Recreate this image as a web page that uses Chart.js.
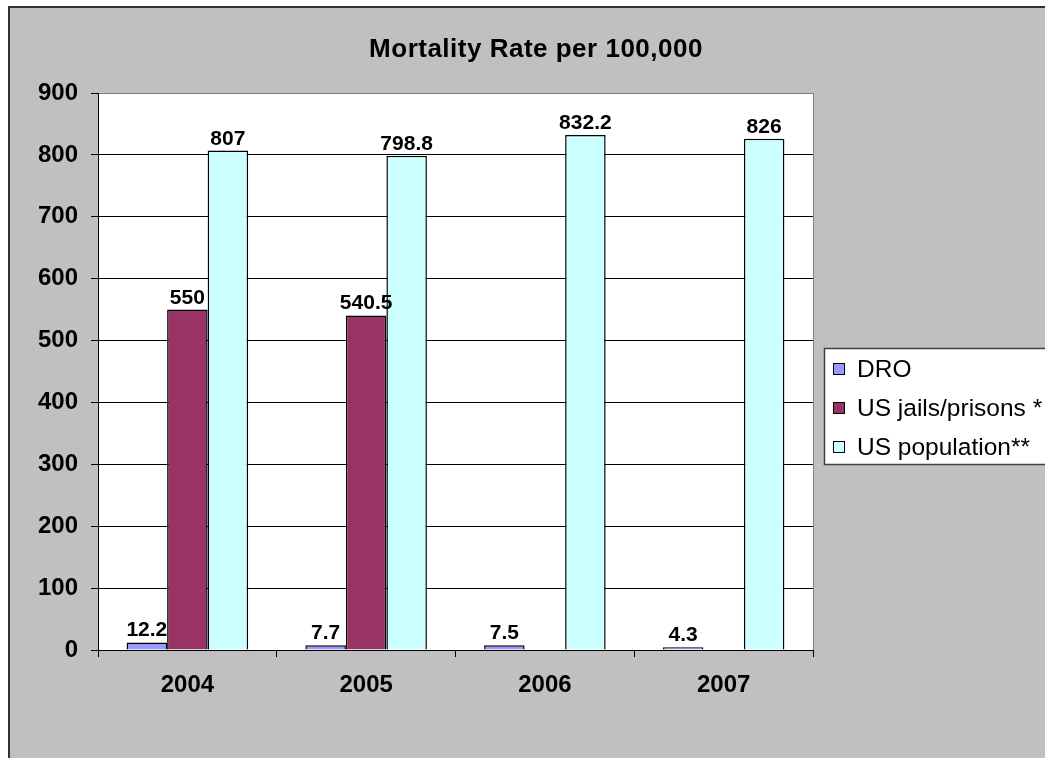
<!DOCTYPE html>
<html>
<head>
<meta charset="utf-8">
<script src="https://cdn.jsdelivr.net/npm/chart.js@4"></script>
<style>
  html, body { margin: 0; padding: 0; background: #fff; overflow: hidden; }
  #wrap { position: relative; width: 1045px; height: 758px; }
</style>
</head>
<body>
<div id="wrap"><canvas id="mortalityChart"></canvas></div>
<script>
const years = ['2004', '2005', '2006', '2007'];
const droRates = [12.2, 7.7, 7.5, 4.3];
const jailRates = [550, 540.5, null, null];
const usPopRates = [807, 798.8, 832.2, 826];
const yTicks = [0, 100, 200, 300, 400, 500, 600, 700, 800, 900];

const FONT = '"Liberation Sans", Arial, sans-serif';

// gray frame, white plot area, title, boxed legend and value labels
const chartFrame = {
    id: 'chartFrame',
    beforeDraw(chart) {
        const { ctx, chartArea: a } = chart;
        ctx.save();
        ctx.fillStyle = '#c0c0c0';
        ctx.fillRect(8, 6, chart.width, chart.height);
        ctx.strokeStyle = '#333';
        ctx.lineWidth = 2;
        ctx.beginPath();
        ctx.moveTo(9, chart.height);
        ctx.lineTo(9, 7);
        ctx.lineTo(chart.width, 7);
        ctx.stroke();
        ctx.fillStyle = '#fff';
        ctx.fillRect(a.left, a.top, a.right - a.left, a.bottom - a.top);
        ctx.restore();
    },
    afterDraw(chart) {
        const { ctx, chartArea: a } = chart;
        ctx.save();

        // right edge of plot area
        ctx.strokeStyle = '#808080';
        ctx.lineWidth = 1;
        ctx.beginPath();
        ctx.moveTo(a.right + 0.5, a.top);
        ctx.lineTo(a.right + 0.5, a.bottom);
        ctx.stroke();

        // value labels
        ctx.fillStyle = '#000';
        ctx.font = 'bold 21px ' + FONT;
        ctx.textAlign = 'center';
        ctx.textBaseline = 'alphabetic';
        chart.data.datasets.forEach((ds, i) => {
            chart.getDatasetMeta(i).data.forEach((bar, j) => {
                const v = ds.data[j];
                if (v == null) return;
                ctx.fillText(String(v), bar.x, bar.y - 6);
            });
        });

        // title
        ctx.font = 'bold 26px ' + FONT;
        ctx.letterSpacing = '0.5px';
        ctx.fillText('Mortality Rate per 100,000', 536, 57);
        ctx.letterSpacing = '0px';

        // legend
        const lx = a.right + 11, ly = 348;
        ctx.fillStyle = '#fff';
        ctx.fillRect(lx, ly, 260, 116);
        ctx.strokeStyle = '#404040';
        ctx.lineWidth = 1.5;
        ctx.strokeRect(lx + 0.5, ly + 0.5, 260, 116);
        ctx.font = '24.5px ' + FONT;
        ctx.textAlign = 'left';
        chart.data.datasets.forEach((ds, i) => {
            const base = 377 + i * 39;
            ctx.fillStyle = ds.backgroundColor;
            ctx.fillRect(lx + 9, base - 14, 12, 12);
            ctx.strokeStyle = '#000';
            ctx.lineWidth = 1;
            ctx.strokeRect(lx + 9.5, base - 13.5, 11, 11);
            ctx.fillStyle = '#000';
            ctx.fillText(ds.label, lx + 33, base);
        });
        ctx.restore();
    }
};

const chartCtx = document.getElementById('mortalityChart').getContext('2d');

const chart = new Chart(chartCtx, {
    type: 'bar',
    data: {
        labels: years,
        datasets: [{
            label: 'DRO',
            data: droRates,
            backgroundColor: '#9999ff',
            borderColor: '#000',
            borderWidth: 1.5
        }, {
            label: 'US jails/prisons *',
            data: jailRates,
            backgroundColor: '#993366',
            borderColor: '#000',
            borderWidth: 1.5
        }, {
            label: 'US population**',
            data: usPopRates,
            backgroundColor: '#ccffff',
            borderColor: '#000',
            borderWidth: 1.5
        }]
    },
    options: {
        responsive: true,
        maintainAspectRatio: false,
        animation: false,
        layout: { padding: { left: 0, top: 93, right: 232, bottom: 0 } },
        datasets: { bar: { categoryPercentage: 0.68, barPercentage: 1 } },
        plugins: {
            legend: { display: false },
            title: { display: false },
            tooltip: { enabled: false }
        },
        scales: {
            x: {
                grid: { display: true, drawOnChartArea: false, drawTicks: true, tickLength: 7, color: '#000', offset: true },
                border: { color: '#000', width: 1 },
                ticks: { color: '#000', font: { family: FONT, size: 24, weight: 'bold' }, padding: 14, maxRotation: 0 },
                afterFit: s => { s.height = 108; }
            },
            y: {
                min: 0,
                max: 900,
                afterBuildTicks: s => { s.ticks = yTicks.map(v => ({ value: v })); },
                grid: {
                    color: c => (c.tick && c.tick.value === 900 ? '#808080' : '#000'),
                    tickColor: '#000',
                    tickLength: 7,
                    lineWidth: 1
                },
                border: { color: '#000', width: 1 },
                ticks: { color: '#000', font: { family: FONT, size: 24, weight: 'bold' }, padding: 13 },
                afterFit: s => { s.width = 98; }
            }
        }
    },
    plugins: [chartFrame]
});
</script>
</body>
</html>
